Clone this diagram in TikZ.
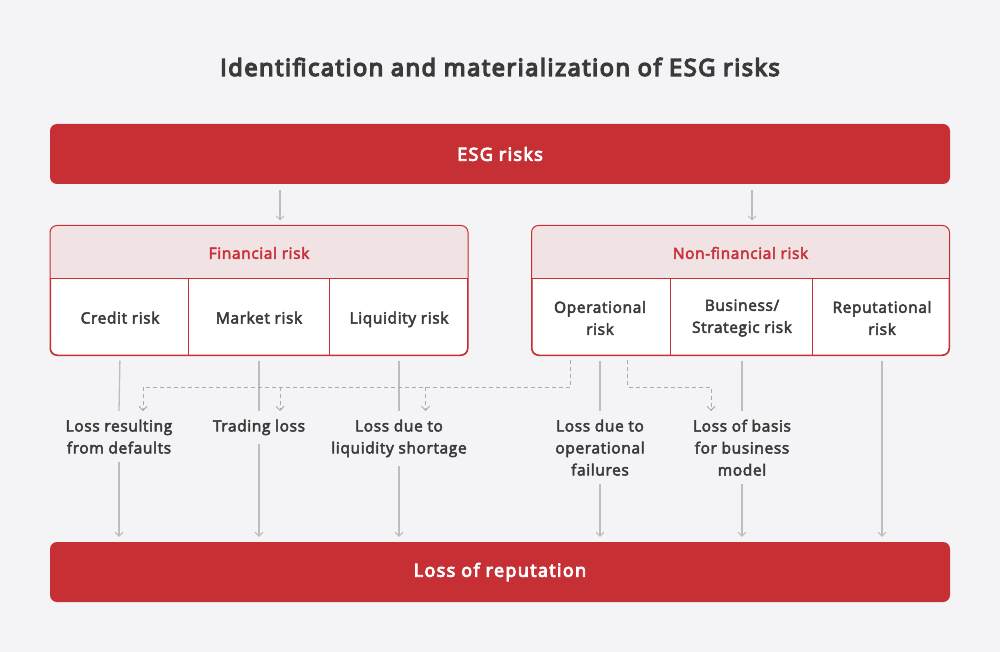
\documentclass[tikz,border=0pt]{standalone}
\usepackage{fontspec}
\setmainfont{Open Sans}
\newfontfamily\medfont[FakeBold=3.2, LetterSpace=4]{Open Sans}
\newfontfamily\barfont[FakeBold=5, LetterSpace=7.5]{Open Sans}
\newfontfamily\titlefont[FakeBold=6, LetterSpace=6.8]{Open Sans}
\usetikzlibrary{arrows.meta,calc}
\definecolor{bg}{HTML}{F4F4F6}
\definecolor{esgred}{HTML}{C62F33}
\definecolor{headfill}{HTML}{F1E2E3}
\definecolor{headtxt}{HTML}{C8313A}
\definecolor{txt}{HTML}{3A3A3A}
\definecolor{conn}{HTML}{BDBDBD}
\definecolor{dash}{HTML}{ABABAB}
\tikzset{
  bar/.style={fill=esgred, rounded corners=7pt, minimum width=900pt, minimum height=60pt, text=white, font=\barfont\fontsize{18}{20}\selectfont},
  grp/.style={draw=esgred, line width=1pt, fill=white, rounded corners=7pt, minimum width=417pt, minimum height=129pt},
  head/.style={text=headtxt, font=\medfont\fontsize{15.5}{17}\selectfont},
  cell/.style={text=txt, align=center, font=\medfont\fontsize{15.5}{22}\selectfont},
  lbl/.style={text=txt, align=center, anchor=north, inner xsep=2pt, inner ysep=8.5pt, font=\medfont\fontsize{15.5}{22}\selectfont},
  solidconn/.style={draw=conn, line width=1.3pt},
  arr/.style={solidconn, -{Straight Barb[length=4pt,width=8pt,line width=1pt]}},
  dashconn/.style={draw=dash, line width=1pt, dash pattern=on 4pt off 3pt, -{Straight Barb[length=4pt,width=8pt,line width=1pt]}},
  dashline/.style={draw=dash, line width=1pt, dash pattern=on 4pt off 3pt}
}
\begin{document}
\begin{tikzpicture}[x=1pt,y=-1pt]
\useasboundingbox (0,0) rectangle (1000,652);
\fill[bg] (0,0) rectangle (1000,652);
\node[text=txt, font=\titlefont\fontsize{23.5}{26}\selectfont] (title) at (500,67) {Identification and materialization of ESG risks};
\node[bar] (esg) at (500,154) {ESG risks};
\node[bar] (rep) at (500,572) {Loss of reputation};
% groups
\node[grp] (fin) at (259,290.5) {};
\node[grp] (nfin) at (740.5,290.5) {};
\foreach \g in {fin,nfin}{
  \begin{scope}
    \clip[rounded corners=7pt] (\g.north west) rectangle (\g.south east);
    \fill[headfill] (\g.north west) rectangle ($(\g.north east)+(0,53)$);
  \end{scope}
  \draw[esgred, line width=1pt, rounded corners=7pt] (\g.north west) rectangle (\g.south east);
  \draw[esgred, line width=1pt] ($(\g.north west)+(0,53)$) -- ($(\g.north east)+(0,53)$);
}
\draw[esgred, line width=1pt] (188,279) -- (188,355) (329,279) -- (329,355);
\draw[esgred, line width=1pt] (670,279) -- (670,355) (812,279) -- (812,355);
\node[head] (finh) at (259,253) {Financial risk};
\node[head] (nfinh) at (740.5,253) {Non-financial risk};
\node[cell, anchor=base] (credit) at (120,323.5) {Credit risk};
\node[cell, anchor=base] (market) at (259,323.5) {Market risk};
\node[cell, anchor=base] (liq) at (399,323.5) {Liquidity risk};
\node[cell] (oper) at (600,318) {Operational\\risk};
\node[cell] (bus) at (742,318) {Business/\\Strategic risk};
\node[cell] (reput) at (882,318) {Reputational\\risk};
% ESG arrows
\coordinate (e1) at (280,184);
\coordinate (e2) at (752,184);
\draw[arr, shorten <=6pt, shorten >=5pt] (e1) -- (e1 |- fin.north);
\draw[arr, shorten <=6pt, shorten >=5pt] (e2) -- (e2 |- nfin.north);
% labels
\node[lbl] (ldef) at (119,411) {Loss resulting\\from defaults};
\node[lbl] (ltrade) at (259,411) {Trading loss};
\node[lbl] (lliq) at (399,411) {Loss due to\\liquidity shortage};
\node[lbl] (loper) at (600,411) {Loss due to\\operational\\failures};
\node[lbl] (lbus) at (742,411) {Loss of basis\\for business\\model};
% solid connectors
\foreach \c/\l in {credit/ldef, market/ltrade, liq/lliq, oper/loper, bus/lbus}{
  \draw[solidconn, shorten <=5pt] (\c |- fin.south) -- (\l.north);
  \draw[arr, shorten >=5pt] (\l.south) -- (\l.south |- rep.north);
}
\draw[arr, shorten <=5pt, shorten >=5pt] (reput |- nfin.south) -- (reput |- rep.north);
% dashed connectors
\coordinate (dA) at (570.5,355);
\coordinate (dB) at (627.5,355);
\coordinate (hy) at (0,387);
\draw[dashline, shorten <=5pt] (dA) -- (dA |- hy) -- (143,387);
\draw[dashconn] (143,387) -- ($(ldef.north)+(24,0)$);
\draw[dashconn] (280,387) -- ($(ltrade.north)+(21,0)$);
\draw[dashconn] (425.5,387) -- ($(lliq.north)+(26.5,0)$);
\draw[dashconn, shorten <=5pt] (dB) -- (dB |- hy) -- (711,387) -- ($(lbus.north)+(-31,0)$);
\end{tikzpicture}
\end{document}
